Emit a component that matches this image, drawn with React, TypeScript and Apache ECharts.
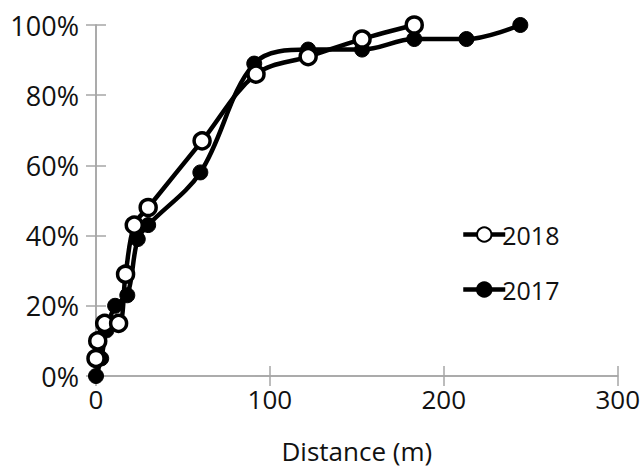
import React, { useEffect, useRef } from "react";
import * as echarts from "echarts";

const dist2018 = [0, 1, 5, 13, 17, 22, 30, 61, 92, 122, 153, 183];
const pct2018 = [0.05, 0.1, 0.15, 0.15, 0.29, 0.43, 0.48, 0.67, 0.86, 0.91, 0.96, 1.0];
const dist2017 = [0, 3, 6, 11, 18, 24, 30, 60, 91, 122, 153, 183, 213, 244];
const pct2017 = [0, 0.05, 0.13, 0.2, 0.23, 0.39, 0.43, 0.58, 0.89, 0.93, 0.93, 0.96, 0.96, 1.0];
const xTicks = [0, 100, 200, 300];
const yTicks = [0, 0.2, 0.4, 0.6, 0.8, 1.0];

const FONT = "Open Sans";
const AXIS_GRAY = "#a6a6a6";

export default function App() {
  const ref = useRef<HTMLDivElement>(null);
  useEffect(() => {
    if (!ref.current) return;
    const chart = echarts.init(ref.current, null, { renderer: "svg" });
    const d2018 = dist2018.map((x, i) => [x, pct2018[i]]);
    const d2017 = dist2017.map((x, i) => [x, pct2017[i]]);
    const xBase = {
      type: "value" as const,
      min: xTicks[0],
      max: xTicks[xTicks.length - 1],
      interval: 100,
      splitLine: { show: false },
      axisLine: { show: true, lineStyle: { color: AXIS_GRAY, width: 1.5 } },
    };
    const yBase = {
      type: "value" as const,
      min: yTicks[0],
      max: yTicks[yTicks.length - 1],
      interval: 0.2,
      splitLine: { show: false },
      axisLine: { show: true, lineStyle: { color: AXIS_GRAY, width: 1.5 } },
    };
    chart.setOption({
      animation: false,
      backgroundColor: "#ffffff",
      grid: { left: 96, right: 25, top: 25, bottom: 94, containLabel: false },
      legend: {
        data: ["2018", "2017"],
        orient: "vertical",
        left: 456,
        top: 217,
        itemWidth: 42,
        itemHeight: 18,
        itemGap: 30,
        lineStyle: { width: 4.5 },
        textStyle: { fontFamily: FONT, fontSize: 25, color: "#111", padding: [0, 0, 0, -8] },
      },
      xAxis: [
        {
          ...xBase,
          axisTick: { show: true, length: 10, lineStyle: { color: AXIS_GRAY, width: 1.5 } },
          axisLabel: { fontFamily: FONT, fontSize: 26, color: "#111", margin: 10 },
          name: "Distance (m)",
          nameLocation: "middle",
          nameGap: 62,
          nameTextStyle: { fontFamily: FONT, fontSize: 26, color: "#111" },
        },
        {
          ...xBase,
          position: "bottom",
          axisTick: { show: true, inside: true, length: 10, lineStyle: { color: AXIS_GRAY, width: 1.5 } },
          axisLabel: { show: false },
        },
      ],
      yAxis: [
        {
          ...yBase,
          axisTick: { show: true, length: 10, lineStyle: { color: AXIS_GRAY, width: 1.5 } },
          axisLabel: {
            fontFamily: FONT,
            fontSize: 27,
            color: "#111",
            margin: 17,
            formatter: (v: number) => Math.round(v * 100) + "%",
          },
        },
        {
          ...yBase,
          position: "left",
          axisTick: { show: true, inside: true, length: 10, lineStyle: { color: AXIS_GRAY, width: 1.5 } },
          axisLabel: { show: false },
        },
      ],
      series: [
        {
          name: "2017",
          type: "line",
          data: d2017,
          smooth: 0.35,
          symbol: "circle",
          symbolSize: 15,
          lineStyle: { color: "#000", width: 4.5 },
          itemStyle: { color: "#000", borderColor: "#000", borderWidth: 1 },
          z: 2,
        },
        {
          name: "2018",
          type: "line",
          data: d2018,
          smooth: 0.35,
          symbol: "circle",
          symbolSize: 16,
          lineStyle: { color: "#000", width: 4.5 },
          itemStyle: { color: "#fff", borderColor: "#000", borderWidth: 3.5 },
          z: 3,
        },
      ],
    });
    return () => chart.dispose();
  }, []);
  return (
    <div
      ref={ref}
      style={{ position: "fixed", left: 0, top: 0, width: 643, height: 470 }}
    />
  );
}
